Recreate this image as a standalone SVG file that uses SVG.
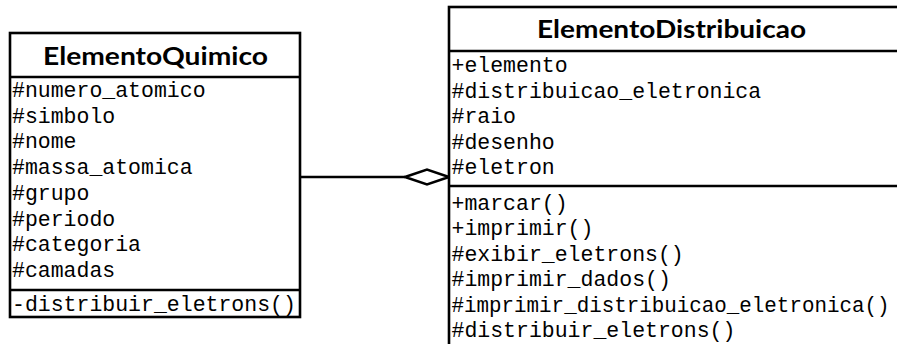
<svg xmlns="http://www.w3.org/2000/svg" width="897" height="344" viewBox="0 0 897 344">
  <style>
    .box { fill: #ffffff; stroke: #000000; stroke-width: 2.6; }
    .sep { stroke: #000000; stroke-width: 2.6; }
    .title { font-family: Lato, "Open Sans", "Liberation Sans", sans-serif; font-weight: bold; font-size: 25px; fill: #000000; text-anchor: middle; }
    .member { font-family: "Liberation Mono", "DejaVu Sans Mono", monospace; font-size: 21.5px; fill: #000000; }
    .link { stroke: #000000; stroke-width: 2.6; fill: none; }
    .diamond { fill: #ffffff; stroke: #000000; stroke-width: 2.6; stroke-linejoin: miter; }
  </style>

  <!-- connectors -->
  <g id="connectors">
    <line class="link" x1="300" y1="177" x2="405" y2="177"/>
    <polygon class="diamond" points="405,177 427,169.5 449,177 427,184.5"/>
  </g>

  <!-- class ElementoQuimico -->
  <g id="ElementoQuimico">
    <rect class="box" x="10" y="33" width="290" height="284"/>
    <line class="sep" x1="10" y1="77" x2="300" y2="77"/>
    <line class="sep" x1="10" y1="290" x2="300" y2="290"/>
    <text class="title" x="155.5" y="65" textLength="225" lengthAdjust="spacingAndGlyphs">ElementoQuimico</text>
    <text class="member" x="12" y="97">#numero_atomico</text>
    <text class="member" x="12" y="122.7">#simbolo</text>
    <text class="member" x="12" y="148.4">#nome</text>
    <text class="member" x="12" y="174.1">#massa_atomica</text>
    <text class="member" x="12" y="199.8">#grupo</text>
    <text class="member" x="12" y="225.5">#periodo</text>
    <text class="member" x="12" y="251.2">#categoria</text>
    <text class="member" x="12" y="276.9">#camadas</text>
    <text class="member" x="12" y="310.5">-distribuir_eletrons()</text>
  </g>

  <!-- class ElementoDistribuicao -->
  <g id="ElementoDistribuicao">
    <rect class="box" x="449" y="7" width="460" height="350"/>
    <line class="sep" x1="449" y1="51" x2="909" y2="51"/>
    <line class="sep" x1="449" y1="186" x2="909" y2="186"/>
    <text class="title" x="671.5" y="38" textLength="269" lengthAdjust="spacingAndGlyphs">ElementoDistribuicao</text>
    <text class="member" x="451.5" y="72">+elemento</text>
    <text class="member" x="451.5" y="97.5">#distribuicao_eletronica</text>
    <text class="member" x="451.5" y="123">#raio</text>
    <text class="member" x="451.5" y="148.5">#desenho</text>
    <text class="member" x="451.5" y="174">#eletron</text>
    <text class="member" x="451.5" y="210">+marcar()</text>
    <text class="member" x="451.5" y="235.4">+imprimir()</text>
    <text class="member" x="451.5" y="260.8">#exibir_eletrons()</text>
    <text class="member" x="451.5" y="286.2">#imprimir_dados()</text>
    <text class="member" x="451.5" y="311.6" textLength="438" lengthAdjust="spacingAndGlyphs">#imprimir_distribuicao_eletronica()</text>
    <text class="member" x="451.5" y="337">#distribuir_eletrons()</text>
  </g>
</svg>
